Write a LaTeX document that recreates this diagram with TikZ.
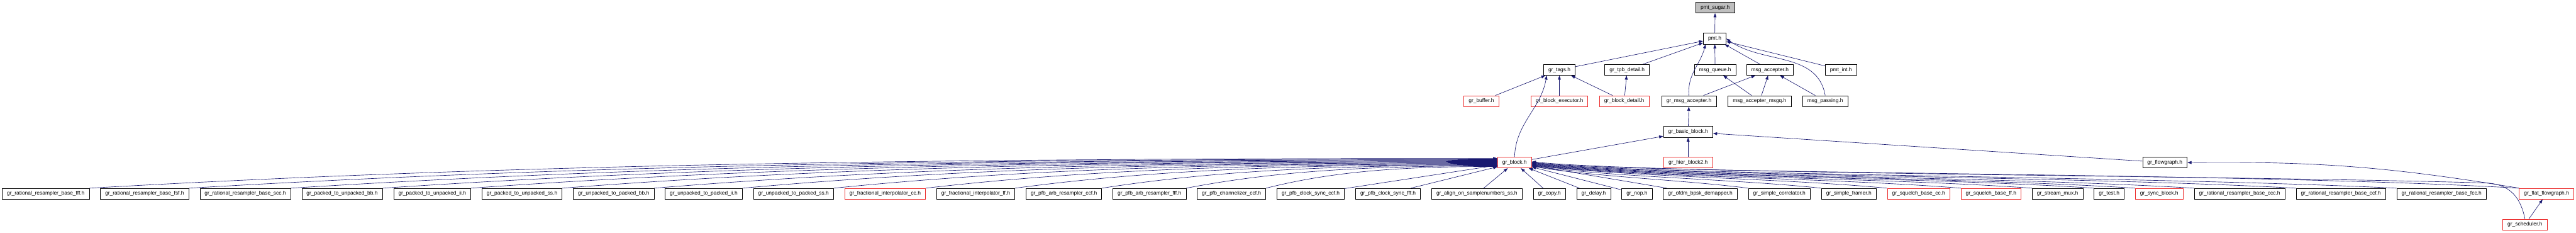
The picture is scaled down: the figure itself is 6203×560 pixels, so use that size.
\documentclass[tikz,border=0pt]{standalone}
\usepackage{fontspec}
\setmainfont{Liberation Sans}
\usetikzlibrary{arrows.meta, positioning}
\definecolor{edgeblue}{RGB}{25,25,112}
\definecolor{boxred}{RGB}{235,40,40}
\definecolor{boxgrey}{RGB}{191,191,191}
\tikzset{
  box/.style = {rectangle, draw=black, line width=0.5pt, minimum height=13pt, inner xsep=5.75pt, inner ysep=0pt, font=\fontsize{6.37pt}{7.6pt}\selectfont},
  redbox/.style = {box, draw=boxred},
  arr/.style = {draw=edgeblue, line width=0.5pt, -{Triangle[length=5pt, width=3.5pt]}}
}

\begin{document}
\begin{tikzpicture}[x=0.5pt, y=-0.5pt, node distance=12.9pt]
\useasboundingbox (0,0) rectangle (6203,560);

% Rows 1-2 (top)
\node[box, fill=boxgrey] (sugar) at (4130,18) {pmt\_sugar.h};
\node[box] (pmt) at (4129,93) {pmt.h};

% Row 3
\node[box] (tags) at (3755,168) {gr\_tags.h};
\node[box] (tpbdet) at (3918,168) {gr\_tpb\_detail.h};
\node[box] (mqueue) at (4130,168) {msg\_queue.h};
\node[box] (macc) at (4262,168) {msg\_accepter.h};
\node[box] (pmtint) at (4433,168) {pmt\_int.h};

% Row 4
\node[redbox] (buffer) at (3567,243) {gr\_buffer.h};
\node[redbox] (blkexec) at (3755,243) {gr\_block\_executor.h};
\node[redbox] (blkdet) at (3911,243) {gr\_block\_detail.h};
\node[box] (grmacc) at (4067,243) {gr\_msg\_accepter.h};
\node[box] (maccq) at (4237,243) {msg\_accepter\_msgq.h};
\node[box] (mpass) at (4395,243) {msg\_passing.h};

% Row 5
\node[box] (basic) at (4065,317) {gr\_basic\_block.h};

% Row 6
\node[redbox] (block) at (3647,391) {gr\_block.h};
\node[redbox] (hier) at (4065,391) {gr\_hier\_block2.h};
\node[box] (flowg) at (5213,391) {gr\_flowgraph.h};

% Row 7 (→)
\node[box, anchor=west] (resfff) at (5,466) {gr\_rational\_resampler\_base\_fff.h};
\node[box, right=of resfff] (resfsf) {gr\_rational\_resampler\_base\_fsf.h};
\node[box, right=of resfsf] (resscc) {gr\_rational\_resampler\_base\_scc.h};
\node[box, right=of resscc] (p2ubb) {gr\_packed\_to\_unpacked\_bb.h};
\node[box, right=of p2ubb] (p2uii) {gr\_packed\_to\_unpacked\_ii.h};
\node[box, right=of p2uii] (p2uss) {gr\_packed\_to\_unpacked\_ss.h};
\node[box, right=of p2uss] (u2pbb) {gr\_unpacked\_to\_packed\_bb.h};
\node[box, right=of u2pbb] (u2pii) {gr\_unpacked\_to\_packed\_ii.h};
\node[box, right=of u2pii] (u2pss) {gr\_unpacked\_to\_packed\_ss.h};
\node[redbox, right=of u2pss] (fraccc) {gr\_fractional\_interpolator\_cc.h};
\node[box, right=of fraccc] (fracff) {gr\_fractional\_interpolator\_ff.h};
\node[box, right=of fracff] (arbccf) {gr\_pfb\_arb\_resampler\_ccf.h};
\node[box, right=of arbccf] (arbfff) {gr\_pfb\_arb\_resampler\_fff.h};
\node[box, right=of arbfff] (chanccf) {gr\_pfb\_channelizer\_ccf.h};
\node[box, right=of chanccf] (clkccf) {gr\_pfb\_clock\_sync\_ccf.h};
\node[box, right=of clkccf] (clkfff) {gr\_pfb\_clock\_sync\_fff.h};
\node[box, right=of clkfff] (align) {gr\_align\_on\_samplenumbers\_ss.h};
\node[box, right=of align] (copy) {gr\_copy.h};
\node[box, right=of copy] (delay) {gr\_delay.h};
\node[box, right=of delay] (nop) {gr\_nop.h};
\node[box, right=of nop] (ofdm) {gr\_ofdm\_bpsk\_demapper.h};
\node[box, right=of ofdm] (corr) {gr\_simple\_correlator.h};
\node[box, right=of corr] (framer) {gr\_simple\_framer.h};
\node[redbox, right=of framer] (sqcc) {gr\_squelch\_base\_cc.h};
\node[redbox, right=of sqcc] (sqff) {gr\_squelch\_base\_ff.h};
\node[box, right=of sqff] (smux) {gr\_stream\_mux.h};
\node[box, right=of smux] (test) {gr\_test.h};
\node[redbox, right=of test] (syncblk) {gr\_sync\_block.h};
\node[box, right=of syncblk] (resccc) {gr\_rational\_resampler\_base\_ccc.h};
\node[box, right=of resccc] (resccf) {gr\_rational\_resampler\_base\_ccf.h};
\node[box, right=of resccf] (resfcc) {gr\_rational\_resampler\_base\_fcc.h};
\node[redbox] (flatfg) at (6132,466) {gr\_flat\_flowgraph.h};

% Row 8
\node[redbox] (sched) at (6080,540) {gr\_scheduler.h};
\coordinate (schedbend) at (5985,440);

% ----- ARROWS -----
% Up to pmt_sugar.h and pmt.h
\draw[arr] (pmt) -- (sugar);
\draw[arr] (tags) -- (pmt);
\draw[arr] (tpbdet) -- (pmt);
\draw[arr] (mqueue) -- (pmt);
\draw[arr] (macc) -- (pmt);
\draw[arr] (pmtint) -- (pmt);
\draw[arr] (grmacc.north) to[out=95, in=-105] ([xshift=3pt]pmt.south west);
\draw[arr] (mpass.north) to[out=100, in=-35] (pmt.east);
% Row 4 up to row 3
\draw[arr] (buffer) -- (tags);
\draw[arr] (blkexec) -- (tags);
\draw[arr] (blkdet) -- (tags);
\draw[arr] (blkdet) -- (tpbdet);
\draw[arr] (grmacc) -- (macc);
\draw[arr] (maccq) -- (mqueue);
\draw[arr] (maccq) -- (macc);
\draw[arr] (mpass) -- (macc);
\draw[arr] (block.north) to[out=88, in=-100] ([xshift=4pt]tags.south west);
% Basic block
\draw[arr] (basic) -- (grmacc);
\draw[arr] (block) -- (basic);
\draw[arr] (hier) -- (basic);
\draw[arr] (flowg) -- (basic);
% Flowgraph and scheduler
\draw[arr] (flatfg.north west) to[bend right=5] (flowg.east);
\draw[arr] (sched) -- (flatfg);
% Row 7 left side into gr_block.h
\draw[arr] (resfff.north east) .. controls +(1017,-58) and +(-1356,0) .. ([yshift=5pt]block.west);
\draw[arr] (resfsf.north east) .. controls +(945,-56) and +(-1260,0) .. ([yshift=4.25pt]block.west);
\draw[arr] (resscc.north east) .. controls +(871,-55) and +(-1162,0) .. ([yshift=3.5pt]block.west);
\draw[arr] (p2ubb.north east) .. controls +(804,-54) and +(-1072,0) .. ([yshift=2.75pt]block.west);
\draw[arr] (p2uii.north east) .. controls +(740,-53) and +(-986,0) .. ([yshift=2pt]block.west);
\draw[arr] (p2uss.north east) .. controls +(673,-52) and +(-897,0) .. ([yshift=1.25pt]block.west);
\draw[arr] (u2pbb.north east) .. controls +(606,-50) and +(-808,0) .. ([yshift=0.5pt]block.west);
\draw[arr] (u2pii.north east) .. controls +(542,-49) and +(-722,0) .. ([yshift=-0.25pt]block.west);
\draw[arr] (u2pss.north east) .. controls +(475,-48) and +(-633,0) .. ([yshift=-1pt]block.west);
\draw[arr] (fraccc.north east) .. controls +(409,-47) and +(-545,0) .. ([yshift=-1.75pt]block.west);
\draw[arr] (fracff.north east) .. controls +(346,-46) and +(-461,0) .. ([yshift=-2.5pt]block.west);
\draw[arr] (arbccf.north east) .. controls +(284,-44) and +(-378,0) .. ([yshift=-3.25pt]block.west);
\draw[arr] (arbfff.north east) .. controls +(224,-43) and +(-298,0) .. ([yshift=-4pt]block.west);
\draw[arr] (chanccf.north east) .. controls +(167,-42) and +(-222,0) .. ([yshift=-4.75pt]block.west);
% Row 7 middle into gr_block.h
\draw[arr] (clkccf) -- (block);
\draw[arr] (clkfff) -- (block);
\draw[arr] (align) -- (block);
\draw[arr] (copy) -- (block);
\draw[arr] (delay) -- (block);
\draw[arr] (nop) -- (block);
\draw[arr] (ofdm) -- (block);
% Row 7 right side into gr_block.h
\draw[arr] (corr.north west) .. controls +(-157,-20) and +(150,25) .. ([yshift=-4.5pt]block.east);
\draw[arr] (framer.north west) .. controls +(-210,-22) and +(200,27) .. ([yshift=-4pt]block.east);
\draw[arr] (sqcc.north west) .. controls +(-258,-24) and +(250,28) .. ([yshift=-3.5pt]block.east);
\draw[arr] (sqff.north west) .. controls +(-311,-25) and +(250,29) .. ([yshift=-3pt]block.east);
\draw[arr] (smux.north west) .. controls +(-363,-26) and +(250,30) .. ([yshift=-2.5pt]block.east);
\draw[arr] (test.north west) .. controls +(-407,-27) and +(250,30) .. ([yshift=-2pt]block.east);
\draw[arr] (syncblk.north west) .. controls +(-436,-28) and +(250,30) .. ([yshift=-1.5pt]block.east);
\draw[arr] (resccc.north west) .. controls +(-479,-29) and +(250,30) .. ([yshift=-1pt]block.east);
\draw[arr] (resccf.north west) .. controls +(-553,-30) and +(250,30) .. ([yshift=-0.5pt]block.east);
\draw[arr] (resfcc.north west) .. controls +(-626,-30) and +(250,30) .. (block.east);
\draw[arr] (flatfg.north west) .. controls +(-700,-40) and +(250,30) .. ([yshift=0.5pt]block.east);
\draw[arr] (sched.north) .. controls +(-10,-50) and +(60,2) .. (schedbend)
  .. controls +(-600,-18) and +(300,30) .. ([yshift=1pt]block.east);

\end{tikzpicture}
\end{document}
